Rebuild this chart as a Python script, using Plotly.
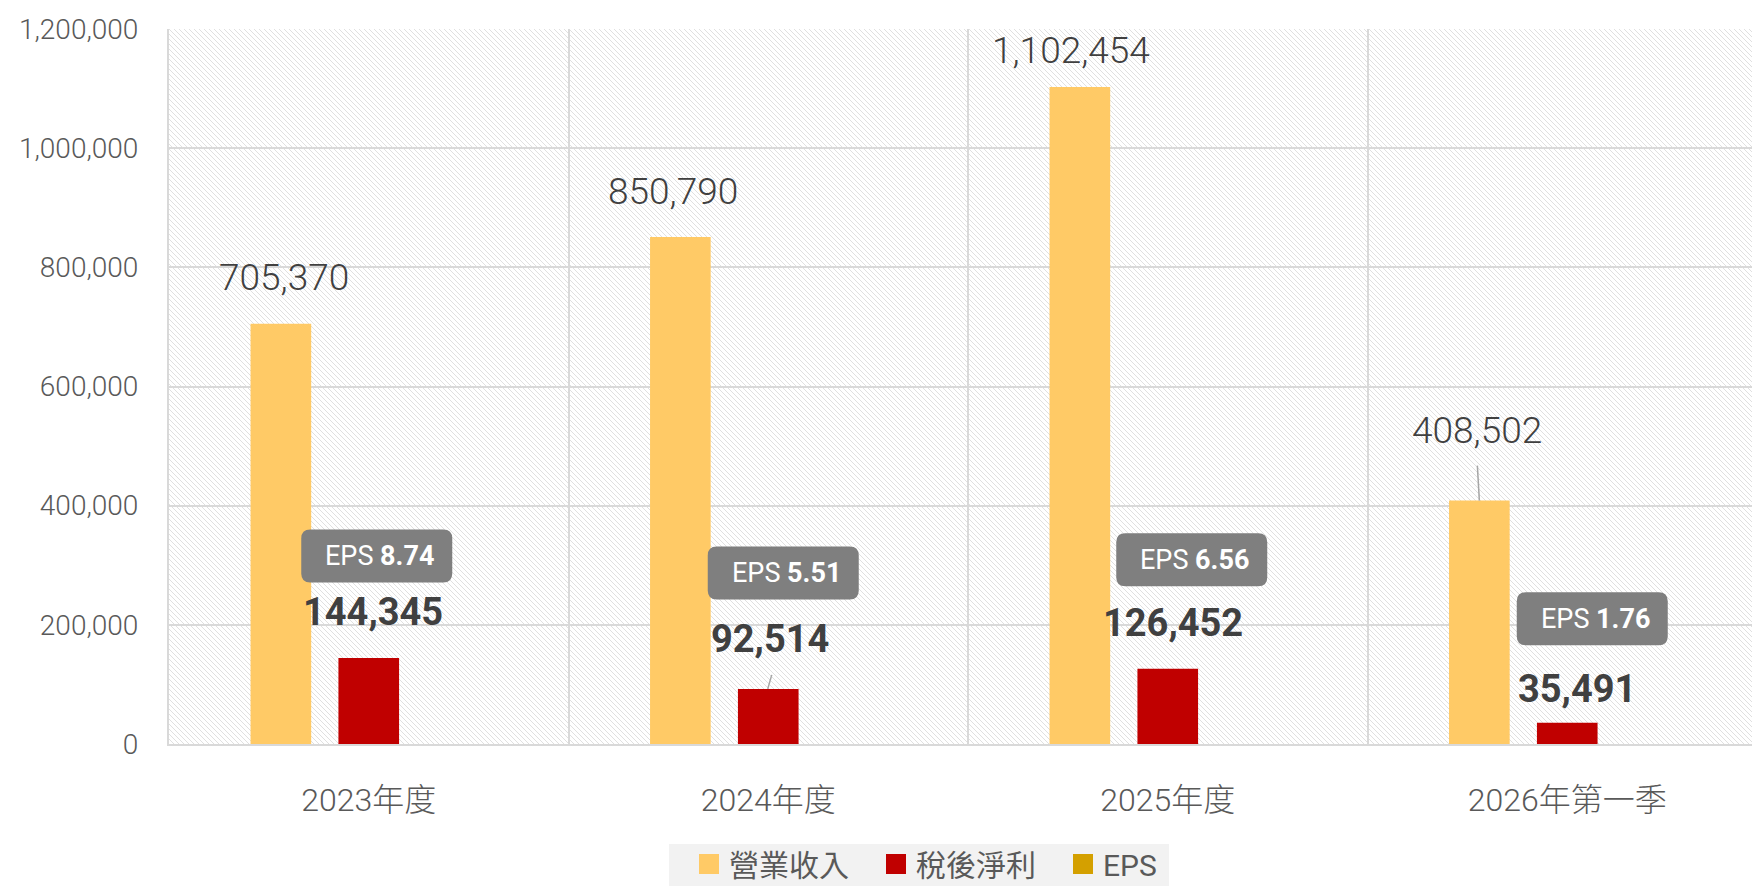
import base64
import plotly.graph_objects as go

# ---- data -------------------------------------------------------------
categories = ["2023年度", "2024年度", "2025年度", "2026年第一季"]
revenue = [705370, 850790, 1102454, 408502]      # 營業收入
net_income = [144345, 92514, 126452, 35491]      # 稅後淨利
eps = [8.74, 5.51, 6.56, 1.76]                   # EPS
y_ticks = [0, 200000, 400000, 600000, 800000, 1000000, 1200000]

# ---- layout constants ---------------------------------------------------
W, H = 1752, 886
M_L, M_R, M_T, M_B = 169, 0, 29, 142
PLOT_W = W - M_L - M_R
PLOT_H = H - M_T - M_B
CAT_PX = 399.5                      # pixel width of one category band
BAR_GAP = 0.34
GROUP_GAP = 0.31
SLOT = (1 - BAR_GAP) / 3            # category units taken by one series slot

C_REV = "#FFCA66"
C_NET = "#C00000"
C_EPS = "#D4A000"
GRID = "#D9D9D9"
FONT = "Roboto, 'Noto Sans CJK TC', sans-serif"

# label nudges in pixels (dx, dy up) relative to the top centre of each bar
rev_label_shift = [(3, 46), (-7, 46), (-9, 37), (-2, 70)]
net_label_shift = [(4, 46), (2, 50), (5, 46), (10, 34)]
eps_box_shift = [(8, 102), (15, 116), (24, 109), (25, 104)]
EPS_BOX_W, EPS_BOX_H, EPS_BOX_R = 151, 53, 9

# legend panel, in figure pixels (left, right, top, bottom)
LEG_PANEL = (669, 1169, 844, 886)
LEG_LEFT_PX, LEG_MID_PX = 689, 864


def px_to_paper_x(px):
    return (px - M_L) / PLOT_W


def px_to_paper_y(py):
    return (M_T + PLOT_H - py) / PLOT_H


# ---- diagonal hatch used as the plot background -----------------------
hatch_svg = (
    f'<svg xmlns="http://www.w3.org/2000/svg" width="{PLOT_W}" height="{PLOT_H}" '
    f'viewBox="0 0 {PLOT_W} {PLOT_H}" preserveAspectRatio="none">'
    '<defs><pattern id="h" width="5" height="5" patternUnits="userSpaceOnUse">'
    '<path d="M-1,-1 L6,6 M-1,4 L1,6 M4,-1 L6,1" stroke="#DCDCDC" stroke-width="0.9"/>'
    '</pattern></defs><rect width="100%" height="100%" fill="white"/>'
    '<rect width="100%" height="100%" fill="url(#h)"/></svg>'
)
hatch_src = "data:image/svg+xml;base64," + base64.b64encode(hatch_svg.encode()).decode()

fig = go.Figure()

fig.add_trace(go.Bar(x=categories, y=revenue, name="營業收入", marker=dict(color=C_REV, line_width=0),
                     legendgroup="rev", showlegend=False, hoverinfo="x+y"))
fig.add_trace(go.Bar(x=categories, y=net_income, name="稅後淨利", marker=dict(color=C_NET, line_width=0),
                     legendgroup="net", showlegend=False, hoverinfo="x+y"))
# EPS shares the value axis, so its bars are negligible in height; keep them transparent
fig.add_trace(go.Bar(x=categories, y=eps, name="EPS", marker=dict(color=C_EPS, line_width=0, opacity=0),
                     legendgroup="eps", showlegend=False, hoverinfo="x+y"))

# legend keys (square swatches)
for name, color, grp in [("營業收入", C_REV, "rev"), ("稅後淨利", C_NET, "net"), ("EPS", C_EPS, "eps")]:
    fig.add_trace(go.Scatter(x=[None], y=[None], mode="markers", name=name, legendgroup=grp,
                             marker=dict(symbol="square", size=16, color=color,
                                         line=dict(color=color, width=4))))

annotations = []
shapes = []

# grey panel behind the legend
shapes.append(dict(type="rect", xref="paper", yref="paper",
                   x0=px_to_paper_x(LEG_PANEL[0]), x1=px_to_paper_x(LEG_PANEL[1]),
                   y0=px_to_paper_y(LEG_PANEL[3]), y1=px_to_paper_y(LEG_PANEL[2]),
                   fillcolor="#F2F2F2", line_width=0, layer="below"))

for i, cat in enumerate(categories):
    # revenue value labels
    dx, dy = rev_label_shift[i]
    annotations.append(dict(
        x=i - SLOT, y=revenue[i], xref="x", yref="y", text=f"{revenue[i]:,}", showarrow=False,
        xshift=dx, yshift=dy, font=dict(family=FONT, size=37, color="#404040", weight=300)))
    # net income value labels
    dx, dy = net_label_shift[i]
    annotations.append(dict(
        x=i, y=net_income[i], xref="x", yref="y", text=f"<b>{net_income[i]:,}</b>", showarrow=False,
        xshift=dx, yshift=dy, font=dict(family=FONT, size=38, color="#404040")))
    # EPS callout box
    bx, by = eps_box_shift[i]
    w2, h2, r = EPS_BOX_W / 2, EPS_BOX_H / 2, EPS_BOX_R
    l, rt, b, t = bx - w2, bx + w2, by - h2, by + h2
    path = (f"M{l + r},{t} L{rt - r},{t} Q{rt},{t} {rt},{t - r} L{rt},{b + r} Q{rt},{b} {rt - r},{b} "
            f"L{l + r},{b} Q{l},{b} {l},{b + r} L{l},{t - r} Q{l},{t} {l + r},{t} Z")
    shapes.append(dict(type="path", path=path, xref="x", yref="y", xsizemode="pixel", ysizemode="pixel",
                       xanchor=i, yanchor=net_income[i], fillcolor="#7F7F7F", line_width=0, layer="above"))
    annotations.append(dict(
        x=i, y=net_income[i], xref="x", yref="y", text=f"EPS <b>{eps[i]:.2f}</b>", showarrow=False,
        xshift=bx + 3, yshift=by, font=dict(family=FONT, size=27, color="white")))

# leader lines for the labels that were pulled away from their bars
shapes.append(dict(type="line", xref="x", yref="y", xsizemode="pixel", ysizemode="pixel",
                   xanchor=1, yanchor=net_income[1], x0=3.5, y0=14, x1=-0.5, y1=0,
                   line=dict(color="#A6A6A6", width=1.5)))
shapes.append(dict(type="line", xref="x", yref="y", xsizemode="pixel", ysizemode="pixel",
                   xanchor=3 - SLOT, yanchor=revenue[3], x0=-2, y0=35, x1=0, y1=0,
                   line=dict(color="#A6A6A6", width=1.5)))

fig.update_layout(
    width=W, height=H,
    margin=dict(l=M_L, r=M_R, t=M_T, b=M_B, pad=0, autoexpand=False),
    paper_bgcolor="white", plot_bgcolor="white",
    barmode="group", bargap=BAR_GAP, bargroupgap=GROUP_GAP,
    font=dict(family=FONT, color="#595959"),
    images=[dict(source=hatch_src, xref="paper", yref="paper", x=0, y=1, sizex=1, sizey=1,
                 xanchor="left", yanchor="top", sizing="stretch", layer="below")],
    annotations=annotations,
    shapes=shapes,
    showlegend=True,
    legend=dict(orientation="h", x=px_to_paper_x(LEG_LEFT_PX), xanchor="left",
                y=px_to_paper_y(LEG_MID_PX), yanchor="middle",
                bgcolor="rgba(0,0,0,0)", borderwidth=0, itemsizing="trace",
                entrywidth=142, entrywidthmode="pixels",
                font=dict(family=FONT, size=30, color="#595959"), itemclick=False, itemdoubleclick=False),
    hovermode="closest",
)

fig.update_xaxes(
    type="category", range=[-0.5, -0.5 + PLOT_W / CAT_PX],
    showgrid=True, gridcolor=GRID, gridwidth=2, tickson="boundaries", ticks="",
    showline=True, linecolor=GRID, linewidth=2,
    tickfont=dict(family=FONT, size=32, color="#595959", weight=300), ticklabelstandoff=27,
)
fig.update_yaxes(
    range=[0, 1200000], tickvals=y_ticks, tickformat=",",
    showgrid=True, gridcolor=GRID, gridwidth=2, zeroline=False,
    showline=True, linecolor=GRID, linewidth=2, ticks="",
    tickfont=dict(family=FONT, size=28, color="#595959", weight=300), ticklabelstandoff=23,
)

fig.write_html("out.html")
